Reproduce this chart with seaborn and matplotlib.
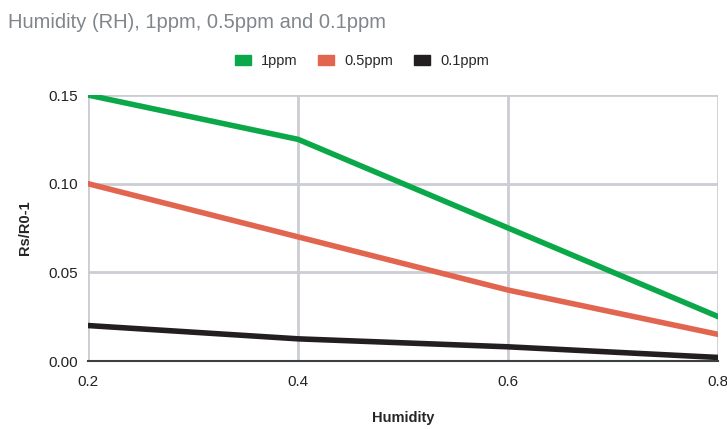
import matplotlib
matplotlib.use("Agg")
import matplotlib.pyplot as plt
import seaborn as sns
import pandas as pd
from matplotlib.patches import Patch

humidity = [0.2, 0.4, 0.6, 0.8]
ppm1 = [0.15, 0.125, 0.075, 0.025]
ppm05 = [0.10, 0.07, 0.04, 0.015]
ppm01 = [0.02, 0.0125, 0.008, 0.002]
series_names = ["1ppm", "0.5ppm", "0.1ppm"]
colors = ["#0BA84A", "#E2654F", "#231F20"]
y_ticks = [0.00, 0.05, 0.10, 0.15]
x_ticks = [0.2, 0.4, 0.6, 0.8]

df = pd.DataFrame({"Humidity": humidity * 3,
                   "value": ppm1 + ppm05 + ppm01,
                   "series": [s for s in series_names for _ in humidity]})

sns.set_style("white")
plt.rcParams['font.family'] = ['Liberation Sans', 'DejaVu Sans']

fig = plt.figure(figsize=(7.27, 4.29), dpi=100)
ax = fig.add_axes([0.121, 0.1585, 0.867, 0.62])

sns.lineplot(data=df, x="Humidity", y="value", hue="series", palette=colors,
             hue_order=series_names, linewidth=4, ax=ax, legend=False, zorder=3)

ax.set_xlim(0.2, 0.8)
ax.set_ylim(0, 0.15)
ax.set_xticks(x_ticks)
ax.set_xticklabels([f"{v:.1f}" for v in x_ticks])
ax.set_yticks(y_ticks)
ax.set_yticklabels([f"{v:.2f}" for v in y_ticks])
ax.grid(True, color="#CCCCD4", linewidth=2)
for s in ["top", "right", "left"]:
    ax.spines[s].set_visible(False)
ax.spines["bottom"].set_color("#3C4043")
ax.spines["bottom"].set_linewidth(1.5)
ax.spines["bottom"].set_zorder(4)
ax.tick_params(axis="y", length=0, labelsize=11, colors="#222222", pad=7)
ax.tick_params(axis="x", length=0, labelsize=11, colors="#222222", pad=10)
ax.set_xlabel("Humidity", fontsize=10.5, fontweight="bold", labelpad=16)
ax.set_ylabel("Rs/R0-1", fontsize=10.5, fontweight="bold", labelpad=12)

fig.text(0.011, 0.935, "Humidity (RH), 1ppm, 0.5ppm and 0.1ppm", fontsize=14.5,
         color="#80868B", va="baseline")

handles = [Patch(facecolor=c, edgecolor=c, label=n) for n, c in zip(series_names, colors)]
fig.legend(handles=handles, loc="center", bbox_to_anchor=(0.498, 0.858), ncol=3,
           frameon=False, fontsize=10.5, handlelength=1.1, handleheight=0.7,
           columnspacing=1.4, handletextpad=0.7)

fig.savefig("out.png", dpi=100)
